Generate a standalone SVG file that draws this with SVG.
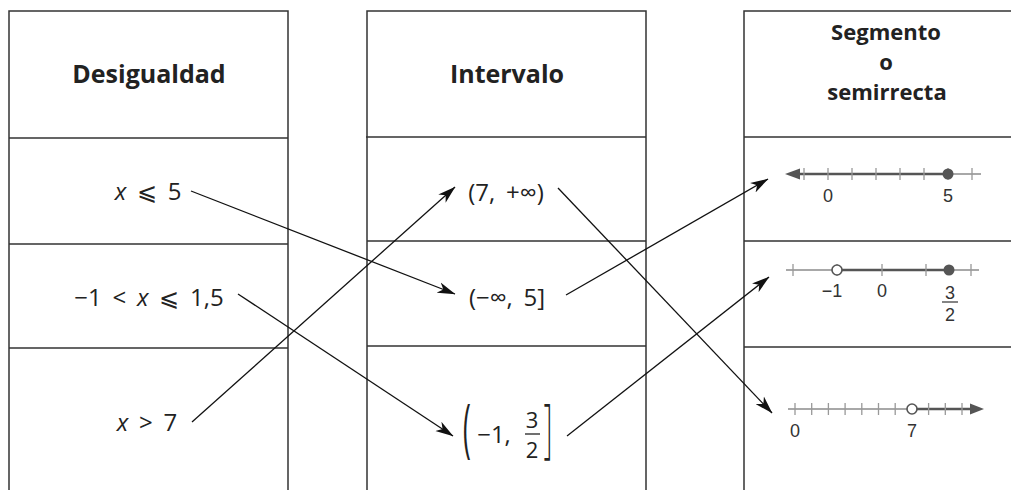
<svg xmlns="http://www.w3.org/2000/svg" width="1011" height="490" viewBox="0 0 1011 490">
<style>
.grid{stroke:#333;stroke-width:1.5;fill:none}
.hd{font-family:"Open Sans","DejaVu Sans",sans-serif;font-weight:700;font-size:25px;fill:#222;text-anchor:middle}
.hs{font-size:22px}
.tx{font-family:"Open Sans","DejaVu Sans",sans-serif;font-size:24px;fill:#222;text-anchor:middle;word-spacing:4.5px}
.it{font-style:italic}
.le{font-weight:200}
.conn{stroke:#111;stroke-width:1.3;fill:none;marker-end:url(#ah)}
.dk{stroke:#555;stroke-width:2.6}
.lt{stroke:#a8a8a8;stroke-width:2}
.tk{stroke:#999;stroke-width:1.3}
.num{font-family:"Liberation Sans",Arial,sans-serif;font-size:18px;fill:#333;text-anchor:middle}
.dot{fill:#555}
.open{fill:#fff;stroke:#555;stroke-width:1.6}
</style>
<defs>
<marker id="ah" viewBox="0 0 18 12" refX="17.5" refY="6" markerWidth="18" markerHeight="12" markerUnits="userSpaceOnUse" orient="auto">
<path d="M0,0.5 L18,6 L0,11.5 L5,6 Z" fill="#111"/>
</marker>
</defs>
<rect width="1011" height="490" fill="#fff"/>
<g id="table">
<path class="grid" d="M9,490 V11 H288 V490 M9,138 H288 M9,244 H288 M9,348 H288"/>
<path class="grid" d="M367,490 V11 H646 V490 M366,137 H646 M367,241 H646 M367,346 H646"/>
<path class="grid" d="M744,490 V11 H1011 M744,137 H1011 M744,241 H1011 M744,347 H1011"/>
</g>
<g id="hdr-desigualdad"><text class="hd" x="149" y="83">Desigualdad</text></g>
<g id="hdr-intervalo"><text class="hd" x="507" y="83">Intervalo</text></g>
<g id="hdr-segmento">
<text class="hd hs" x="886" y="40">Segmento</text>
<text class="hd hs" x="886" y="70">o</text>
<text class="hd hs" x="887" y="100">semirrecta</text>
</g>
<g id="ineq-1"><text class="tx" x="148" y="200"><tspan class="it">x</tspan> <tspan class="le">⩽</tspan> 5</text></g>
<g id="ineq-2"><text class="tx" x="149" y="306">−1 &lt; <tspan class="it">x</tspan> <tspan class="le">⩽</tspan> 1,5</text></g>
<g id="ineq-3"><text class="tx" x="147" y="431"><tspan class="it">x</tspan> &gt; 7</text></g>
<g id="int-1"><text class="tx" x="506" y="201">(7, +∞)</text></g>
<g id="int-2"><text class="tx" x="507" y="306">(−∞, 5]</text></g>
<g id="int-3">
<text class="tx" transform="translate(467,450) scale(1.1,2.7)" x="0" y="0">(</text>
<text class="tx" x="494" y="443">−1,</text>
<text class="tx" x="532" y="428" style="font-size:22px">3</text>
<line x1="525" y1="434" x2="540" y2="434" stroke="#222" stroke-width="1.3"/>
<text class="tx" x="532" y="458" style="font-size:22px">2</text>
<text class="tx" transform="translate(548,450) scale(1.1,2.7)" x="0" y="0" style="font-weight:300">]</text>
</g>
<g id="line-1">
<line class="lt" x1="948" y1="174" x2="981" y2="174"/>
<line class="dk" x1="797" y1="174" x2="948" y2="174"/>
<polygon class="dot" points="785,174 800,168.5 800,179.5"/>
<path class="tk" d="M804,168V180M828,168V180M852,168V180M876,168V180M900,168V180M924,168V180M948,168V180M972,168V180"/>
<circle class="dot" cx="948" cy="174" r="5.5"/>
<text class="num" x="828" y="202">0</text>
<text class="num" x="948" y="202">5</text>
</g>
<g id="line-2">
<line class="lt" x1="786" y1="270" x2="979" y2="270"/>
<line class="dk" x1="837" y1="270" x2="949" y2="270"/>
<path class="tk" d="M793,264V276M837,264V276M882,264V276M926,264V276M971,264V276"/>
<circle class="open" cx="837" cy="270" r="5"/>
<circle class="dot" cx="949" cy="270" r="5.5"/>
<text class="num" x="832" y="297">−1</text>
<text class="num" x="882" y="297">0</text>
<text class="num" x="950" y="299">3</text>
<line x1="942" y1="302" x2="958" y2="302" stroke="#333" stroke-width="1.2"/>
<text class="num" x="950" y="321">2</text>
</g>
<g id="line-3">
<line class="lt" x1="788" y1="409" x2="912" y2="409"/>
<line class="dk" x1="912" y1="409" x2="972" y2="409"/>
<polygon class="dot" points="984,409 970,403.5 970,414.5"/>
<path class="tk" d="M795,403V415M811.7,403V415M828.4,403V415M845.1,403V415M861.8,403V415M878.5,403V415M895.2,403V415M928.6,403V415M945.3,403V415M962,403V415"/>
<circle class="open" cx="912" cy="409" r="5"/>
<text class="num" x="795" y="437">0</text>
<text class="num" x="912" y="437">7</text>
</g>
<g id="connectors">
<line class="conn" x1="191" y1="191" x2="455" y2="294"/>
<line class="conn" x1="238" y1="294" x2="453" y2="436"/>
<line class="conn" x1="192" y1="422" x2="455" y2="187"/>
<line class="conn" x1="558" y1="188" x2="772" y2="413"/>
<line class="conn" x1="566" y1="295" x2="768" y2="179"/>
<line class="conn" x1="567" y1="436" x2="769" y2="277"/>
</g>
</svg>
